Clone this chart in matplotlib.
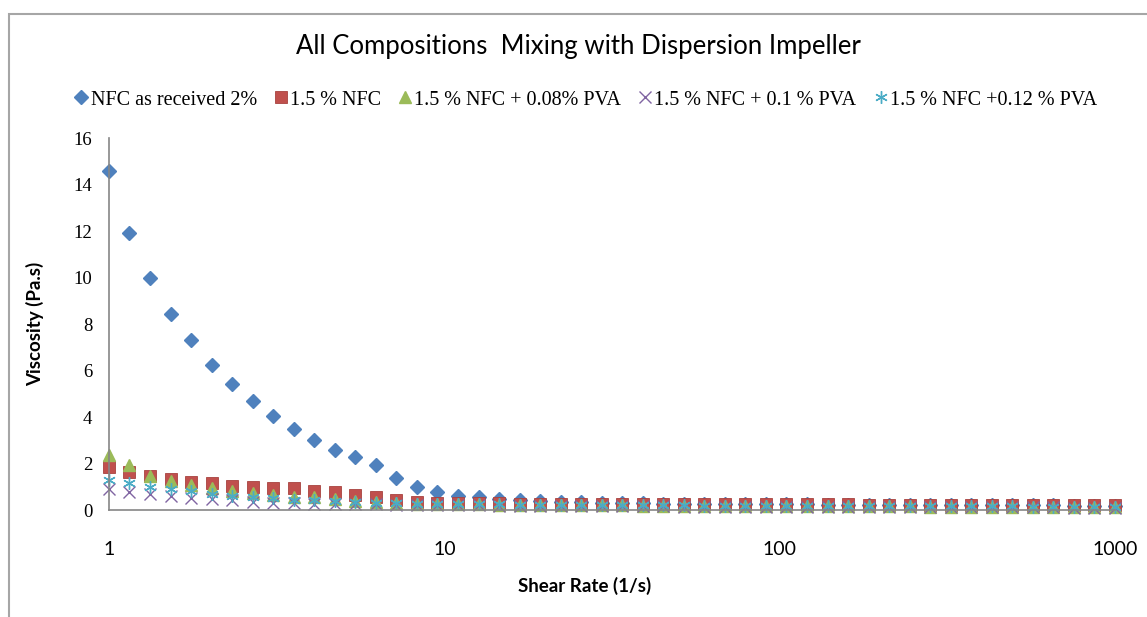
import matplotlib
matplotlib.use("Agg")
import matplotlib.pyplot as plt
from matplotlib.patches import Rectangle
from matplotlib.ticker import FixedLocator, FixedFormatter, NullLocator

# shear rate sweep (1/s), 50 points from 1 to 1000
shear_rate = [1, 1.151, 1.326, 1.526, 1.758, 2.024, 2.330, 2.683, 3.089, 3.556,
              4.095, 4.715, 5.429, 6.251, 7.197, 8.286, 9.541, 10.985, 12.65, 14.56,
              16.77, 19.31, 22.23, 25.60, 29.47, 33.93, 39.07, 44.98, 51.79, 59.64,
              68.66, 79.06, 91.03, 104.8, 120.7, 138.9, 160.0, 184.2, 212.1, 244.2,
              281.2, 323.7, 372.8, 429.2, 494.2, 569.0, 655.1, 754.3, 868.5, 1000]

nfc_2 = [14.6, 11.9, 10.0, 8.45, 7.3, 6.25, 5.4, 4.7, 4.05, 3.5,
         3.0, 2.6, 2.27, 1.95, 1.38, 0.98, 0.78, 0.6, 0.55, 0.48,
         0.42, 0.38, 0.35, 0.33, 0.31, 0.3, 0.29, 0.28, 0.27, 0.26,
         0.26, 0.25, 0.25, 0.24, 0.24, 0.23, 0.23, 0.22, 0.22, 0.22,
         0.21, 0.21, 0.21, 0.2, 0.2, 0.2, 0.2, 0.19, 0.19, 0.19]
nfc_15 = [1.85, 1.65, 1.46, 1.32, 1.22, 1.15, 1.05, 0.98, 0.93, 0.93,
          0.83, 0.78, 0.65, 0.57, 0.43, 0.36, 0.31, 0.3, 0.29, 0.29,
          0.28, 0.28, 0.28, 0.27, 0.27, 0.27, 0.26, 0.26, 0.26, 0.25,
          0.25, 0.25, 0.25, 0.24, 0.24, 0.24, 0.24, 0.23, 0.23, 0.23,
          0.23, 0.22, 0.22, 0.22, 0.22, 0.21, 0.21, 0.21, 0.21, 0.2]
pva_008 = [2.35, 1.92, 1.45, 1.25, 1.08, 0.93, 0.83, 0.72, 0.65, 0.57,
           0.55, 0.46, 0.4, 0.36, 0.3, 0.28, 0.26, 0.25, 0.24, 0.23,
           0.22, 0.22, 0.21, 0.21, 0.2, 0.2, 0.19, 0.19, 0.19, 0.18,
           0.18, 0.18, 0.17, 0.17, 0.17, 0.17, 0.16, 0.16, 0.16, 0.16,
           0.15, 0.15, 0.15, 0.15, 0.15, 0.14, 0.14, 0.14, 0.14, 0.14]
pva_01 = [0.92, 0.79, 0.69, 0.6, 0.5, 0.46, 0.43, 0.36, 0.32, 0.29,
          0.27, 0.26, 0.25, 0.24, 0.23, 0.22, 0.21, 0.2, 0.2, 0.19,
          0.19, 0.18, 0.18, 0.17, 0.17, 0.16, 0.16, 0.16, 0.15, 0.15,
          0.15, 0.14, 0.14, 0.14, 0.13, 0.13, 0.13, 0.13, 0.12, 0.12,
          0.12, 0.12, 0.11, 0.11, 0.11, 0.11, 0.11, 0.1, 0.1, 0.1]
pva_012 = [1.3, 1.15, 1.0, 0.9, 0.8, 0.7, 0.62, 0.55, 0.5, 0.45,
           0.42, 0.38, 0.35, 0.32, 0.3, 0.28, 0.27, 0.26, 0.25, 0.24,
           0.23, 0.23, 0.22, 0.22, 0.21, 0.21, 0.2, 0.2, 0.2, 0.19,
           0.19, 0.19, 0.18, 0.18, 0.18, 0.18, 0.17, 0.17, 0.17, 0.17,
           0.16, 0.16, 0.16, 0.16, 0.16, 0.15, 0.15, 0.15, 0.15, 0.15]

labels = ['NFC as received 2%', '1.5 % NFC', '1.5 % NFC + 0.08% PVA',
          '1.5 % NFC + 0.1 % PVA', '1.5 % NFC +0.12 % PVA']
x_ticks = [1, 10, 100, 1000]
y_ticks = [0, 2, 4, 6, 8, 10, 12, 14, 16]

fig = plt.figure(figsize=(11.47, 6.17), dpi=100)
ax = fig.add_axes([0.095, 0.1734, 0.8771, 0.6029])

# outer chart frame (runs off the right and bottom edges)
fig.patches.append(Rectangle((9 / 1147, -0.1), 1.2, 1 - 14 / 617 + 0.1,
                             transform=fig.transFigure, fill=False,
                             edgecolor='#a6a6a6', linewidth=1.5))

series = [
    (nfc_2, dict(marker='D', color='#4F81BD', ms=7.0, mec='#4F81BD')),
    (nfc_15, dict(marker='s', color='#C0504D', ms=9, mec='#A8423F', mew=0.6)),
    (pva_008, dict(marker='^', color='#9BBB59', ms=9, mec='#9BBB59')),
    (pva_01, dict(marker='x', color='#8064A2', ms=9, mew=1.0)),
    (pva_012, dict(marker=(6, 2, 0), color='#4BACC6', ms=9, mew=1.0)),
]
for (vals, style), lab in zip(series, labels):
    ax.plot(shear_rate, vals, ls='none', label=lab, clip_on=False, **style)

ax.set_xscale('log')
ax.set_xlim(1, 1000)
ax.set_ylim(0, 16)
ax.xaxis.set_major_locator(FixedLocator(x_ticks))
ax.xaxis.set_major_formatter(FixedFormatter([str(t) for t in x_ticks]))
ax.xaxis.set_minor_locator(NullLocator())
ax.set_yticks(y_ticks)

for side in ['top', 'right']:
    ax.spines[side].set_visible(False)
for side in ['left', 'bottom']:
    ax.spines[side].set_color('#868686')
    ax.spines[side].set_linewidth(1.2)

ax.tick_params(axis='both', length=0)
ax.tick_params(axis='x', pad=22)
ax.tick_params(axis='y', pad=12)
for t in ax.get_xticklabels():
    t.set_fontfamily('Lato')
    t.set_fontsize(14)
for t in ax.get_yticklabels():
    t.set_fontfamily('Liberation Serif')
    t.set_fontsize(13.5)

ax.set_xlabel('Shear Rate (1/s)', fontfamily='Lato', fontweight='bold', fontsize=13.5)
ax.set_ylabel('Viscosity (Pa.s)', fontfamily='Lato', fontweight='bold', fontsize=13.5)
ax.xaxis.set_label_coords(0.473, -0.18)
ax.yaxis.set_label_coords(-0.064, 0.50)

fig.text(0.504, 0.924, 'All Compositions  Mixing with Dispersion Impeller',
         ha='center', va='center', fontfamily='Lato', fontsize=18.5)

fig.legend(loc='center', bbox_to_anchor=(0.511, 1 - 100 / 617), ncol=5,
           frameon=False, handlelength=0.6, handletextpad=0.15,
           columnspacing=0.9, borderaxespad=0,
           prop={'family': 'Liberation Serif', 'size': 14.5})

fig.savefig('out.png', dpi=100)
